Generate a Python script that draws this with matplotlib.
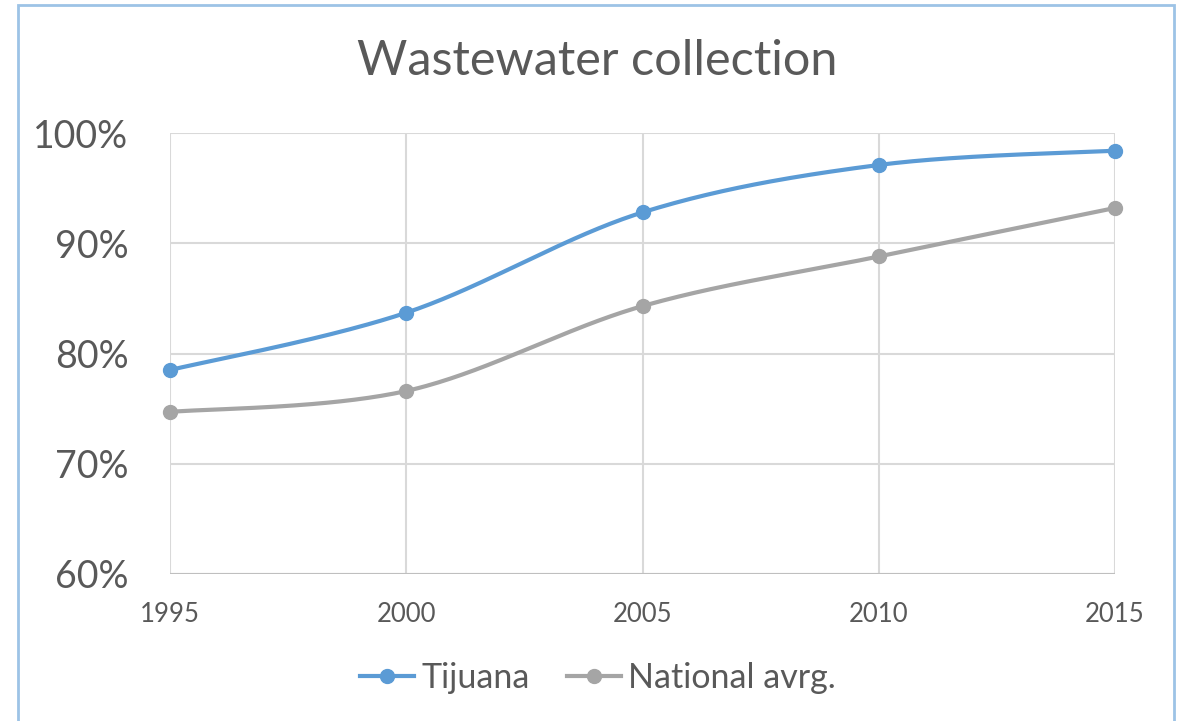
import numpy as np
import matplotlib
matplotlib.use("Agg")
import matplotlib.pyplot as plt
from matplotlib.lines import Line2D
from matplotlib.patches import Rectangle

years = [1995, 2000, 2005, 2010, 2015]
tijuana = [78.5, 83.7, 92.8, 97.1, 98.4]
national = [74.7, 76.6, 84.3, 88.8, 93.2]
series_names = ["Tijuana", "National avrg."]
series_colors = ["#5B9BD5", "#A5A5A5"]
yticks = [60, 70, 80, 90, 100]
title = "Wastewater collection"

plt.rcParams['font.family'] = ['Lato', 'DejaVu Sans']
TEXT = "#595959"
GRID = "#D9D9D9"


def smooth(xs, ys, n=60):
    # Excel-style Bezier smoothing (Catmull-Rom control points)
    P = np.column_stack([xs, ys]).astype(float)
    m = len(P)
    out = []
    for i in range(m - 1):
        p0 = P[i - 1] if i > 0 else P[i]
        p1 = P[i]
        p2 = P[i + 1]
        p3 = P[i + 2] if i + 2 < m else P[i + 1]
        c1 = p1 + (p2 - p0) / 6.0
        c2 = p2 - (p3 - p1) / 6.0
        t = np.linspace(0, 1, n)[:, None]
        seg = ((1 - t) ** 3) * p1 + 3 * ((1 - t) ** 2) * t * c1 + 3 * (1 - t) * t ** 2 * c2 + t ** 3 * p2
        out.append(seg if i == 0 else seg[1:])
    arr = np.vstack(out)
    return arr[:, 0], arr[:, 1]


fig = plt.figure(figsize=(11.8, 7.21), dpi=100)
fig.patch.set_facecolor("white")
fig.add_artist(Rectangle((17.5 / 1180, -0.01), (1174 - 17.5) / 1180, 1 - 4.5 / 721 + 0.01,
                         transform=fig.transFigure, fill=False, edgecolor="#9DC3E6", linewidth=2))

ax = fig.add_axes([170 / 1180, 1 - 574 / 721, (1115 - 170) / 1180, (574 - 133) / 721])
ax.set_xlim(years[0], years[-1])
ax.set_ylim(yticks[0], yticks[-1])
for s in ax.spines.values():
    s.set_visible(False)
ax.set_yticks(yticks)
ax.set_yticklabels([f"{v}%" for v in yticks])
ax.set_xticks(years)
ax.set_xticklabels([str(y) for y in years])
ax.grid(True, color=GRID, linewidth=1.5)
ax.set_axisbelow(True)
ax.tick_params(axis="y", length=0, pad=30, labelsize=27, labelcolor=TEXT)
ax.tick_params(axis="x", length=0, pad=20, labelsize=18.5, labelcolor=TEXT)
ax.axhline(yticks[0], color="#BFBFBF", linewidth=1.5, zorder=1)

handles = []
for vals, name, col in zip([tijuana, national], series_names, series_colors):
    sx, sy = smooth(years, vals)
    ax.plot(sx, sy, color=col, linewidth=3, solid_capstyle="round", zorder=3, clip_on=False)
    ax.plot(years, vals, linestyle="none", marker="o", markersize=10, color=col, zorder=4, clip_on=False)
    handles.append(Line2D([], [], color=col, linewidth=3, marker="o", markersize=10))

fig.text(597 / 1180, 1 - 61 / 721, title, ha="center", va="center", fontsize=35, color=TEXT)

fig.legend(handles, series_names, loc="center", bbox_to_anchor=(598 / 1180, 1 - 678 / 721),
           ncol=2, frameon=False, fontsize=24.5, labelcolor=TEXT, handlelength=1.6,
           handletextpad=0.2, columnspacing=1.1)

fig.savefig("out.png", dpi=100, facecolor="white")
